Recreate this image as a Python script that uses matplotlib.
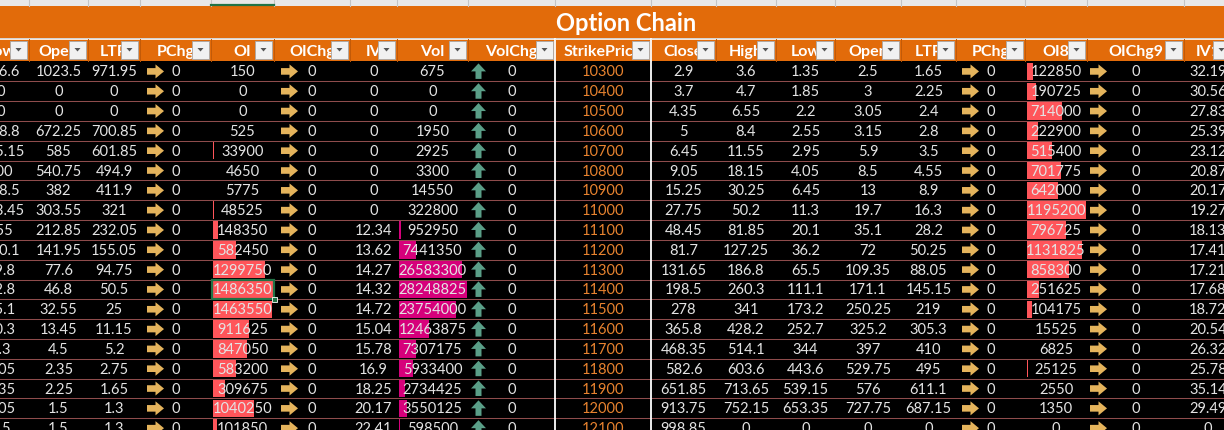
import matplotlib.pyplot as plt
from matplotlib.patches import Rectangle, Polygon

# ---------------- data ----------------
strike = [10300, 10400, 10500, 10600, 10700, 10800, 10900, 11000, 11100, 11200,
          11300, 11400, 11500, 11600, 11700, 11800, 11900, 12000, 12100]

# call side
c_low = [966.6, 0, 0, 668.8, 575.15, 400, 378.5, 283.45, 155, 130.1,
         69.8, 42.8, 25.1, 10.3, 4.3, 2.05, 1.35, 1.05, 1.5]
c_open = [1023.5, 0, 0, 672.25, 585, 540.75, 382, 303.55, 212.85, 141.95,
          77.6, 46.8, 32.55, 13.45, 4.5, 2.35, 2.25, 1.5, 1.5]
c_ltp = [971.95, 0, 0, 700.85, 601.85, 494.9, 411.9, 321, 232.05, 155.05,
         94.75, 50.5, 25, 11.15, 5.2, 2.75, 1.65, 1.3, 1.3]
c_pchg = [0] * 19
c_oi = [150, 0, 0, 525, 33900, 4650, 5775, 48525, 148350, 582450,
        1299750, 1486350, 1463550, 911625, 847050, 583200, 309675, 1040250, 101850]
c_oichg = [0] * 19
c_iv = [0, 0, 0, 0, 0, 0, 0, 0, 12.34, 13.62,
        14.27, 14.32, 14.72, 15.04, 15.78, 16.9, 18.25, 20.17, 22.41]
c_vol = [675, 0, 0, 1950, 2925, 3300, 14550, 322800, 952950, 7441350,
         26583300, 28248825, 23754000, 12463875, 7307175, 5933400, 2734425, 3550125, 598500]
c_volchg = [0] * 19

# put side
p_close = [2.9, 3.7, 4.35, 5, 6.45, 9.05, 15.25, 27.75, 48.45, 81.7,
           131.65, 198.5, 278, 365.8, 468.35, 582.6, 651.85, 913.75, 998.85]
p_high = [3.6, 4.7, 6.55, 8.4, 11.55, 18.15, 30.25, 50.2, 81.85, 127.25,
          186.8, 260.3, 341, 428.2, 514.1, 603.6, 713.65, 752.15, 0]
p_low = [1.35, 1.85, 2.2, 2.55, 2.95, 4.05, 6.45, 11.3, 20.1, 36.2,
         65.5, 111.1, 173.2, 252.7, 344, 443.6, 539.15, 653.35, 0]
p_open = [2.5, 3, 3.05, 3.15, 5.9, 8.5, 13, 19.7, 35.1, 72,
          109.35, 171.1, 250.25, 325.2, 397, 529.75, 576, 727.75, 0]
p_ltp = [1.65, 2.25, 2.4, 2.8, 3.5, 4.55, 8.9, 16.3, 28.2, 50.25,
         88.05, 145.15, 219, 305.3, 410, 495, 611.1, 687.15, 0]
p_pchg = [0] * 19
p_oi = [122850, 190725, 714000, 222900, 515400, 701775, 642000, 1195200, 796725, 1131825,
        858300, 251625, 104175, 15525, 6825, 25125, 2550, 1350, 0]
p_oichg = [0] * 19
p_iv = [32.19, 30.56, 27.83, 25.39, 23.12, 20.87, 20.17, 19.27, 18.13, 17.41,
        17.21, 17.68, 18.72, 20.54, 26.32, 25.78, 35.14, 29.49, 0]

headers = ['Low', 'Open', 'LTP', 'PChg', 'OI', 'OIChg', 'IV', 'Vol', 'VolChg',
           'StrikePrice',
           'Close', 'High', 'Low', 'Open', 'LTP', 'PChg', 'OI8', 'OIChg9', 'IV1']
title = 'Option Chain'

# column kind: num / right (gold arrow icon) / up (green arrow icon) / bar / strike
columns = [
    (c_low, 'num'), (c_open, 'num'), (c_ltp, 'num'), (c_pchg, 'right'),
    (c_oi, 'bar_red'), (c_oichg, 'right'), (c_iv, 'num'), (c_vol, 'bar_pink'),
    (c_volchg, 'up'), (strike, 'strike'),
    (p_close, 'num'), (p_high, 'num'), (p_low, 'num'), (p_open, 'num'),
    (p_ltp, 'num'), (p_pchg, 'right'), (p_oi, 'bar_red'), (p_oichg, 'right'),
    (p_iv, 'num'),
]

# ---------------- layout ----------------
edges = [-27, 29, 88, 140, 211, 274, 350, 397, 468, 555, 651, 716, 776, 835,
         901, 956, 1025, 1087, 1184, 1232]
icon_x = {3: 147, 5: 281, 8: 471, 15: 962, 17: 1090}
top0 = 61.5
row_h = 19.82

ORANGE = '#E26B0A'
TXT = '#E4E4E4'
FONT = ['Lato', 'DejaVu Sans']


def fmt(v):
    if float(v).is_integer():
        return str(int(v))
    return f'{v:.2f}'.rstrip('0').rstrip('.')


def right_arrow(ax, x0, yc):
    pts = [(x0, yc - 3.3), (x0 + 8.5, yc - 3.3), (x0 + 8.5, yc - 7), (x0 + 17, yc),
           (x0 + 8.5, yc + 7), (x0 + 8.5, yc + 3.3), (x0, yc + 3.3)]
    ax.add_patch(Polygon(pts, closed=True, fc='#E5B45C', ec='none', zorder=4))


def up_arrow(ax, x0, yc):
    xc = x0 + 7.5
    pts = [(xc, yc - 8), (xc + 7.5, yc), (xc + 3, yc), (xc + 3, yc + 7.5),
           (xc - 3, yc + 7.5), (xc - 3, yc), (xc - 7.5, yc)]
    ax.add_patch(Polygon(pts, closed=True, fc='#5A9F88', ec='none', zorder=4))


fig = plt.figure(figsize=(12.24, 4.30), dpi=100, facecolor='black')
ax = fig.add_axes([0, 0, 1, 1])
ax.set_xlim(0, 1224)
ax.set_ylim(430, 0)
ax.axis('off')
ax.set_facecolor('black')

# top strip (excel column headers)
ax.add_patch(Rectangle((0, 0), 1224, 5.5, fc='#E8E8E8', ec='none', zorder=1))
for e in edges[1:]:
    ax.plot([e, e], [0, 5.5], color='#C4C4C4', lw=0.8, zorder=2)
ax.plot([edges[4], edges[5]], [4.5, 4.5], color='#217346', lw=1.6, zorder=3)

# title band
ax.add_patch(Rectangle((0, 5.5), 1224, 32.5, fc=ORANGE, ec='none', zorder=1))
ax.text(626, 31, title, ha='center', va='baseline', fontsize=17,
        fontweight='bold', color='white', family=FONT, zorder=3)
ax.plot([0, 1224], [38.5, 38.5], color='white', lw=1.2, zorder=3)

# header row
ax.add_patch(Rectangle((0, 39.2), 1224, 21.8, fc=ORANGE, ec='none', zorder=1))
for i, name in enumerate(headers):
    l, r = edges[i], edges[i + 1]
    ax.text((l + r) / 2, 56, name, ha='center', va='baseline', fontsize=11.5,
            fontweight='bold', color='white', family=FONT, zorder=3)
    # filter drop-down button
    ax.add_patch(Rectangle((r - 19, 41), 17, 17.5, fc='#F1F1F1', ec='#A8A8A8',
                           lw=0.6, zorder=5))
    bx = r - 10.5
    ax.add_patch(Polygon([(bx - 3, 48), (bx + 3, 48), (bx, 51.5)], closed=True,
                         fc='#555555', ec='none', zorder=6))
    ax.plot([r, r], [39.2, 61], color='#C15A08', lw=0.7, zorder=4)

# data rows
n = len(strike)
for k in range(1, n + 1):
    y = top0 + k * row_h
    ax.plot([0, 1224], [y, y], color='#8E4C4C', lw=0.75, zorder=2)

for ci, (vals, kind) in enumerate(columns):
    l, r = edges[ci], edges[ci + 1]
    xc = (l + r) / 2
    vmax = max(vals) if kind.startswith('bar') else 1
    for ri, v in enumerate(vals):
        top = top0 + ri * row_h
        yc = top + row_h / 2
        color = TXT
        if kind.startswith('bar') and v > 0:
            w = v / vmax * (r - l - 3)
            bc = '#FF555A' if kind == 'bar_red' else '#D6007B'
            ax.add_patch(Rectangle((l + 1.5, top + 1.2), w, row_h - 2.4,
                                   fc=bc, ec='none', zorder=2))
        if kind == 'right':
            right_arrow(ax, icon_x[ci], yc)
        if kind == 'up':
            up_arrow(ax, icon_x[ci], yc)
        if kind == 'strike':
            color = '#E8832F'
        ax.text(xc, yc + 5, fmt(v), ha='center', va='baseline', fontsize=10.5,
                color=color, family=FONT, zorder=3)

# white borders round the strike column
for e in (edges[9], edges[10]):
    ax.plot([e, e], [38.5, 430], color='white', lw=1.3, zorder=5)

# selected cell
sel_row = strike.index(11400)
st = top0 + sel_row * row_h
ax.add_patch(Rectangle((edges[4] + 0.5, st + 0.5), edges[5] - edges[4] - 1, row_h - 1,
                       fill=False, ec='#217346', lw=1.6, zorder=6))
ax.add_patch(Rectangle((edges[5] - 2.5, st + row_h - 2.5), 5, 5, fc='#217346',
                       ec='white', lw=0.6, zorder=7))

fig.savefig('out.png', dpi=100, facecolor='black')
